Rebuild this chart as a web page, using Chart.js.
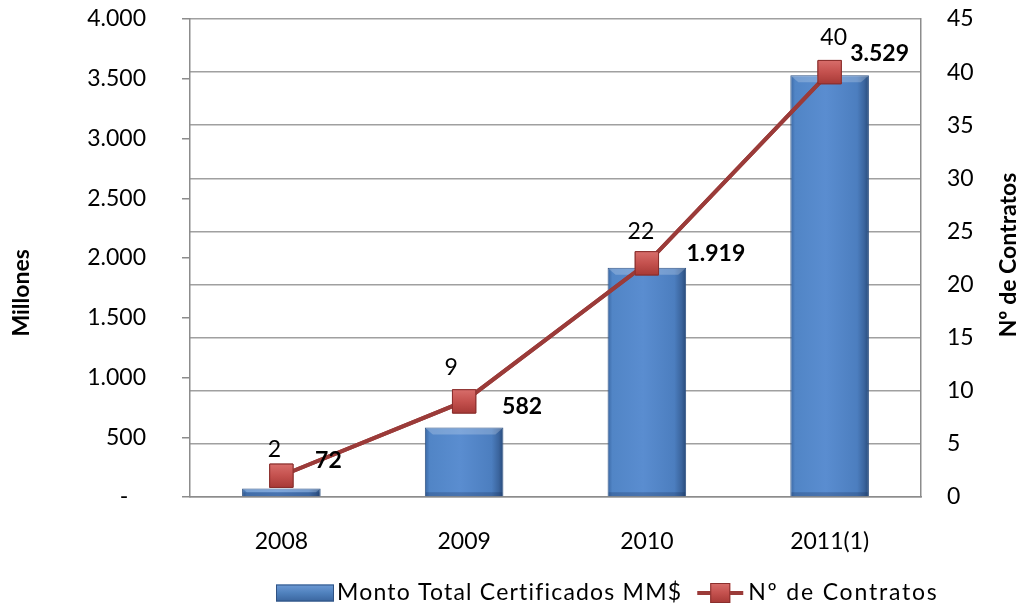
<!DOCTYPE html>
<html>
<head>
<meta charset="utf-8">
<script src="https://cdn.jsdelivr.net/npm/chart.js@4.4.0/dist/chart.umd.min.js"></script>
<style>
  html, body { margin: 0; padding: 0; background: #ffffff; }
  #wrap { width: 1019px; height: 608px; position: relative; }
</style>
</head>
<body>
<div id="wrap"><canvas id="c" width="1019" height="608"></canvas></div>
<script>
// ---- data ----
const categories = ['2008', '2009', '2010', '2011(1)'];
const montoValues = [72, 582, 1919, 3529];
const contratosValues = [2, 9, 22, 40];
const montoLabel = 'Monto Total Certificados MM$';
const contratosLabel = 'Nº de Contratos';
const leftAxisTitle = 'Millones';
const rightAxisTitle = 'Nº de Contratos';
const leftTickValues = [0, 500, 1000, 1500, 2000, 2500, 3000, 3500, 4000];
const rightTickValues = [0, 5, 10, 15, 20, 25, 30, 35, 40, 45];

// ---- label placement (pixel offsets, styling only) ----
const countLabelOffsets = [[-7, -26], [-13, -34], [-6, -32], [4, -35]];
const valueLabelOffsets = [[47, -28], [58, -21], [69, -14], [50, -22]];

const FONT = 'Lato, "Open Sans", sans-serif';
const BAR_PCT = 0.43;

function fmtThousands(v) {
  const s = String(Math.round(v));
  return s.replace(/\B(?=(\d{3})+(?!\d))/g, '.');
}

function barGradient(c) {
  const chart = c.chart;
  const xs = chart.scales && chart.scales.x;
  const a = chart.chartArea;
  if (!xs || !a || c.dataIndex === undefined) return '#4F81BD';
  const cx = xs.getPixelForValue(c.dataIndex);
  const w = (a.right - a.left) / categories.length * BAR_PCT;
  if (!isFinite(cx) || !isFinite(w) || w <= 0) return '#4F81BD';
  const g = chart.ctx.createLinearGradient(cx - w / 2, 0, cx + w / 2, 0);
  g.addColorStop(0, '#3A67A3');
  g.addColorStop(0.06, '#5185C6');
  g.addColorStop(0.45, '#5A8DD0');
  g.addColorStop(0.85, '#4C7EBF');
  g.addColorStop(0.94, '#3B659E');
  g.addColorStop(1, '#274A7A');
  return g;
}

function markerGradient(c) {
  const chart = c.chart;
  const xs = chart.scales && chart.scales.x, ys = chart.scales && chart.scales.y1;
  if (!xs || !ys || c.dataIndex === undefined) return '#C0504D';
  const cx = xs.getPixelForValue(c.dataIndex);
  const cy = ys.getPixelForValue(contratosValues[c.dataIndex]);
  if (!isFinite(cx) || !isFinite(cy)) return '#C0504D';
  const g = chart.ctx.createLinearGradient(cx, cy - 12, cx, cy + 12);
  g.addColorStop(0, '#D86E6B');
  g.addColorStop(0.5, '#C4514E');
  g.addColorStop(1, '#A63936');
  return g;
}

const overlayPlugin = {
  id: 'overlay',
  afterDatasetsDraw(chart) {
    const ctx = chart.ctx;
    const barMeta = chart.getDatasetMeta(1);
    const lineMeta = chart.getDatasetMeta(0);
    ctx.save();
    // bar top bevel highlight
    barMeta.data.forEach((bar) => {
      const left = bar.x - bar.width / 2, right = bar.x + bar.width / 2;
      const top = bar.y, bottom = bar.base;
      const h = Math.min(7, (bottom - top) / 2);
      ctx.fillStyle = 'rgba(255,255,255,0.22)';
      ctx.beginPath();
      ctx.moveTo(left + 1, top + 1);
      ctx.lineTo(right - 1, top + 1);
      ctx.lineTo(right - 1 - h, top + h);
      ctx.lineTo(left + 1 + h, top + h);
      ctx.closePath();
      ctx.fill();
      ctx.fillStyle = 'rgba(20,40,80,0.25)';
      ctx.fillRect(left + 1, bottom - Math.min(4, h), right - left - 2, Math.min(4, h));
    });
    // redraw line + markers above bar overlays
    lineMeta.dataset.draw(ctx, chart.chartArea);
    lineMeta.data.forEach((pt) => pt.draw(ctx, chart.chartArea));
    // data labels
    ctx.textAlign = 'center';
    ctx.textBaseline = 'middle';
    ctx.fillStyle = '#000000';
    ctx.font = 'bold 23px ' + FONT;
    barMeta.data.forEach((bar, i) => {
      const o = valueLabelOffsets[i];
      ctx.fillText(fmtThousands(montoValues[i]), bar.x + o[0], bar.y + o[1]);
    });
    ctx.font = '23px ' + FONT;
    lineMeta.data.forEach((pt, i) => {
      const o = countLabelOffsets[i];
      ctx.fillText(String(contratosValues[i]), pt.x + o[0], pt.y + o[1]);
    });
    ctx.restore();
  },
  afterDraw(chart) {
    const ctx = chart.ctx;
    const a = chart.chartArea;
    ctx.save();
    ctx.fillStyle = '#000000';
    ctx.font = 'bold 23px ' + FONT;
    ctx.textAlign = 'center';
    ctx.textBaseline = 'middle';
    // axis titles (both read bottom-to-top)
    ctx.save();
    ctx.translate(22, a.top + (a.bottom - a.top) * 0.573);
    ctx.rotate(-Math.PI / 2);
    ctx.fillText(leftAxisTitle, 0, 0);
    ctx.restore();
    ctx.save();
    ctx.translate(1009, (a.top + a.bottom) / 2 - 3);
    ctx.rotate(-Math.PI / 2);
    ctx.fillText(rightAxisTitle, 0, 0);
    ctx.restore();

    // legend
    ctx.font = '23px ' + FONT;
    if ('letterSpacing' in ctx) ctx.letterSpacing = '1.2px';
    ctx.textAlign = 'left';
    const ly = 593;
    const boxW = 58, boxH = 17;
    const w1 = ctx.measureText(montoLabel).width;
    const lineW = 46, gap1 = 3, gapMid = 15, gap2 = 5;
    let x = 276;
    const g = ctx.createLinearGradient(0, ly - boxH / 2, 0, ly + boxH / 2);
    g.addColorStop(0, '#6E9BD6');
    g.addColorStop(0.5, '#4F81BD');
    g.addColorStop(1, '#3A659E');
    ctx.fillStyle = g;
    ctx.fillRect(x, ly - boxH / 2, boxW, boxH);
    ctx.strokeStyle = '#2F5283';
    ctx.lineWidth = 1;
    ctx.strokeRect(x + 0.5, ly - boxH / 2 + 0.5, boxW - 1, boxH - 1);
    x += boxW + gap1;
    ctx.fillStyle = '#000000';
    ctx.fillText(montoLabel, x, ly);
    x += w1 + gapMid;
    ctx.strokeStyle = '#9B3B39';
    ctx.lineWidth = 4;
    ctx.beginPath();
    ctx.moveTo(x, ly);
    ctx.lineTo(x + lineW, ly);
    ctx.stroke();
    const mg = ctx.createLinearGradient(0, ly - 10, 0, ly + 10);
    mg.addColorStop(0, '#D86E6B');
    mg.addColorStop(0.5, '#C4514E');
    mg.addColorStop(1, '#A63936');
    ctx.fillStyle = mg;
    ctx.fillRect(x + lineW / 2 - 10, ly - 10, 20, 20);
    ctx.strokeStyle = '#8A2F2D';
    ctx.lineWidth = 1;
    ctx.strokeRect(x + lineW / 2 - 9.5, ly - 9.5, 19, 19);
    x += lineW + gap2;
    ctx.fillStyle = '#000000';
    ctx.letterSpacing = '1.8px';
    ctx.fillText(contratosLabel, x, ly);
    ctx.restore();
  }
};

new Chart(document.getElementById('c'), {
  data: {
    labels: categories,
    datasets: [
      {
        type: 'line',
        label: contratosLabel,
        data: contratosValues,
        yAxisID: 'y1',
        borderColor: '#9B3B39',
        borderWidth: 4,
        pointStyle: 'rect',
        pointRadius: 16.5,
        pointHoverRadius: 16.5,
        pointBackgroundColor: markerGradient,
        pointBorderColor: '#8A2F2D',
        pointBorderWidth: 1,
        tension: 0,
        order: 0
      },
      {
        type: 'bar',
        label: montoLabel,
        data: montoValues,
        yAxisID: 'y',
        backgroundColor: barGradient,
        borderColor: '#2F5283',
        borderWidth: 1,
        barPercentage: BAR_PCT,
        categoryPercentage: 1,
        order: 1
      }
    ]
  },
  options: {
    responsive: false,
    animation: false,
    events: [],
    layout: { padding: { top: 19, left: 0, right: 0, bottom: 0 } },
    plugins: {
      legend: { display: false },
      tooltip: { enabled: false },
      title: { display: false }
    },
    scales: {
      x: {
        type: 'category',
        offset: true,
        grid: { display: false, drawTicks: false },
        border: { display: true, color: '#8C8C8C', width: 1.5 },
        ticks: { color: '#000', font: { family: FONT, size: 23 }, padding: 31, maxRotation: 0 },
        afterFit(s) { s.height = 111; }
      },
      y: {
        type: 'linear',
        position: 'left',
        min: 0,
        max: 4000,
        afterBuildTicks(s) { s.ticks = leftTickValues.map(v => ({ value: v })); },
        grid: {
          drawOnChartArea: false, drawTicks: true, tickLength: 44,
          color: '#8C8C8C', lineWidth: 1.5,
          tickBorderDash: [0, 36, 9, 200], tickBorderDashOffset: 0
        },
        border: { display: true, color: '#8C8C8C', width: 1.5 },
        ticks: {
          color: '#000',
          font: { family: FONT, size: 23 },
          padding: 0,
          callback: (v) => v === 0 ? '-   ' : fmtThousands(v)
        },
        afterFit(s) { s.width = 190; }
      },
      y1: {
        type: 'linear',
        position: 'right',
        min: 0,
        max: 45,
        afterBuildTicks(s) { s.ticks = rightTickValues.map(v => ({ value: v })); },
        grid: { drawOnChartArea: true, drawTicks: true, tickLength: 26, tickColor: 'rgba(0,0,0,0)', color: '#A0A0A0', lineWidth: 1.5 },
        border: { display: true, color: '#8C8C8C', width: 1.5 },
        ticks: { color: '#000', font: { family: FONT, size: 23 }, padding: 0 },
        afterFit(s) { s.width = 98; }
      }
    }
  },
  plugins: [overlayPlugin]
});
</script>
</body>
</html>
